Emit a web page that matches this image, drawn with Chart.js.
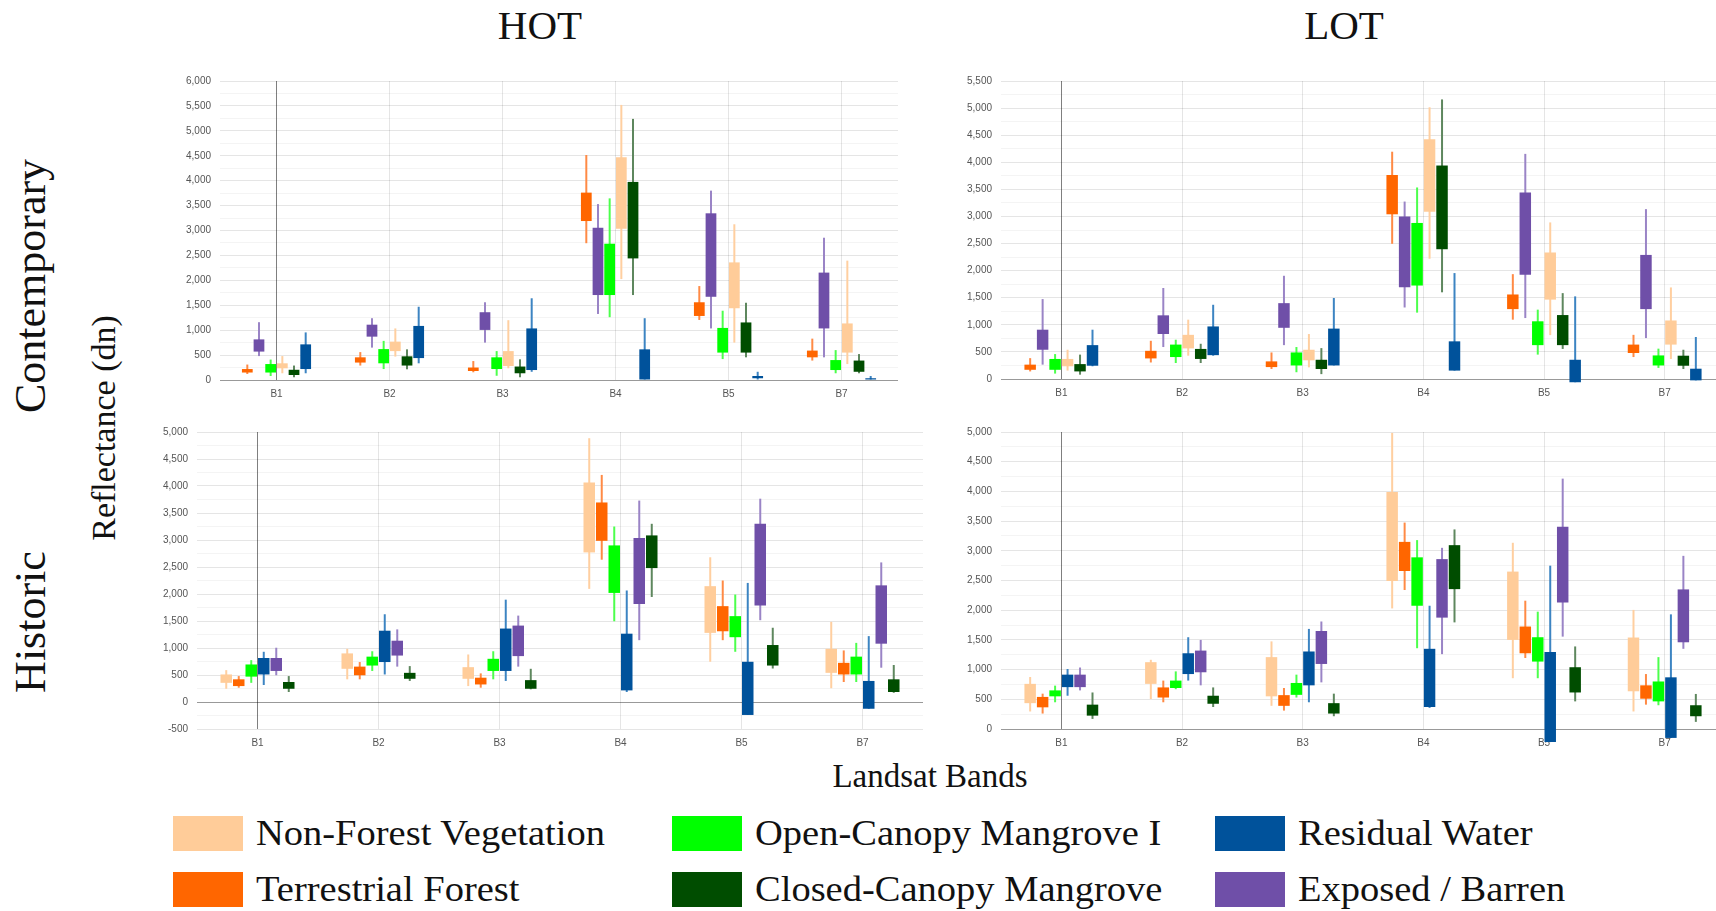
<!DOCTYPE html>
<html>
<head>
<meta charset="utf-8">
<script src="https://cdn.jsdelivr.net/npm/chart.js@4.4.1/dist/chart.umd.min.js"></script>
<style>
  html, body { margin: 0; padding: 0; background: #fff; }
  body { width: 1716px; height: 911px; overflow: hidden; position: relative; font-family: "Liberation Serif", serif; color: #111; }
  .panel { position: absolute; }
  .txt { position: absolute; white-space: nowrap; line-height: 1; }
  .rot { transform: translate(-50%, -50%) rotate(-90deg); }
  .sw { position: absolute; width: 70px; height: 35px; }
  .lg { position: absolute; font-size: 35px; line-height: 1; white-space: nowrap; transform: scaleX(1.1); transform-origin: left center; }
</style>
</head>
<body>

<div class="txt" style="left:540px;top:5px;font-size:41px;transform:translateX(-50%)">HOT</div>
<div class="txt" style="left:1344px;top:5px;font-size:41px;transform:translateX(-50%)">LOT</div>
<div class="txt rot" style="left:31px;top:286px;font-size:44px">Contemporary</div>
<div class="txt rot" style="left:31px;top:622px;font-size:44px">Historic</div>
<div class="txt rot" style="left:104px;top:428px;font-size:34px">Reflectance (dn)</div>
<div class="txt" style="left:930px;top:760px;font-size:33px;transform:translateX(-50%)">Landsat Bands</div>

<div class="panel" id="pTL"><canvas id="cTL"></canvas></div>
<div class="panel" id="pTR"><canvas id="cTR"></canvas></div>
<div class="panel" id="pBL"><canvas id="cBL"></canvas></div>
<div class="panel" id="pBR"><canvas id="cBR"></canvas></div>

<div id="legend"></div>

<script>
// Landsat bands on the x axis
const bands = ['B1', 'B2', 'B3', 'B4', 'B5', 'B7'];

// land cover classes
const classNames = ['Non-Forest Vegetation', 'Terrestrial Forest', 'Open-Canopy Mangrove I',
                    'Closed-Canopy Mangrove', 'Residual Water', 'Exposed / Barren'];
const classColors = ['#FFCC99', '#FF6600', '#00FF00', '#004D00', '#00529B', '#6F4FA8'];
const whiskerColors = ['#FFCFA0', '#FF8A45', '#4CFF4C', '#5E875E', '#3C84C2', '#9A84C6'];

// draw order of the classes inside each band group
const contempOrder = [1, 5, 2, 0, 3, 4];
const historicOrder = [0, 1, 2, 4, 5, 3];

// ---- HOT, contemporary: boxes [low, high], whiskers [min, max] ----
const hotC_nfv_box = [[235,335],[580,770],[280,580],[3035,4470],[1440,2360],[550,1135]];
const hotC_nfv_wsk = [[135,480],[470,1035],[235,1200],[2025,5520],[750,3125],[320,2395]];
const hotC_tf_box  = [[150,220],[350,455],[180,250],[3190,3760],[1285,1560],[455,590]];
const hotC_tf_wsk  = [[120,310],[290,560],[155,380],[2745,4515],[1205,1885],[390,830]];
const hotC_ocm_box = [[150,320],[335,620],[220,455],[1705,2735],[550,1045],[200,400]];
const hotC_ocm_wsk = [[80,410],[220,785],[85,580],[1260,3645],[420,1390],[135,600]];
const hotC_ccm_box = [[100,205],[290,475],[135,270],[2440,3975],[550,1155],[165,390]];
const hotC_ccm_wsk = [[55,290],[215,615],[55,415],[1705,5240],[455,1550],[135,520]];
const hotC_rw_box  = [[220,715],[440,1085],[200,1035],[0,615],[35,80],[0,35]];
const hotC_rw_wsk  = [[135,955],[335,1470],[165,1640],[0,1240],[0,165],[0,80]];
const hotC_eb_box  = [[570,815],[870,1110],[1005,1360],[1705,3055],[1670,3345],[1035,2155]];
const hotC_eb_wsk  = [[480,1160],[650,1240],[750,1560],[1325,3530],[1035,3800],[455,2855]];

// ---- LOT, contemporary ----
const lotC_nfv_box = [[235,370],[565,815],[345,540],[3085,4425],[1465,2335],[635,1080]];
const lotC_nfv_wsk = [[155,540],[430,1095],[215,830],[2220,5015],[810,2890],[370,1690]];
const lotC_tf_box  = [[170,265],[380,520],[220,325],[3040,3765],[1290,1560],[480,635]];
const lotC_tf_wsk  = [[140,385],[305,705],[185,490],[2495,4195],[1095,1935],[405,815]];
const lotC_ocm_box = [[170,370],[405,635],[250,490],[1725,2880],[625,1065],[250,435]];
const lotC_ocm_wsk = [[100,460],[295,725],[125,590],[1225,3535],[450,1280],[205,560]];
const lotC_ccm_box = [[140,275],[370,555],[185,355],[2395,3940],[625,1180],[245,430]];
const lotC_ccm_wsk = [[80,450],[295,650],[90,570],[1600,5160],[555,1585],[185,540]];
const lotC_rw_box  = [[245,625],[440,970],[250,930],[155,695],[-60,355],[-25,190]];
const lotC_rw_wsk  = [[235,910],[430,1370],[250,1495],[155,1955],[-60,1525],[-25,775]];
const lotC_eb_box  = [[540,910],[830,1175],[945,1400],[1695,3000],[1925,3440],[1290,2290]];
const lotC_eb_wsk  = [[265,1475],[590,1680],[625,1905],[1320,3275],[1125,4155],[755,3135]];

// ---- HOT, historic ----
const hotH_nfv_box = [[355,510],[615,900],[430,645],[2770,4065],[1280,2145],[540,985]];
const hotH_nfv_wsk = [[245,590],[420,985],[295,880],[2095,4885],[745,2680],[255,1485]];
const hotH_tf_box  = [[295,420],[495,655],[325,450],[2985,3695],[1310,1775],[510,725]];
const hotH_tf_wsk  = [[265,480],[420,740],[265,530],[2635,4205],[1145,2250],[370,955]];
const hotH_ocm_box = [[470,695],[675,840],[575,800],[2020,2900],[1200,1590],[510,840]];
const hotH_ocm_wsk = [[355,775],[575,940],[420,940],[1495,3250],[930,1990],[370,1095]];
const hotH_ccm_box = [[245,370],[430,540],[245,405],[2480,3085],[675,1055],[185,420]];
const hotH_ccm_wsk = [[185,480],[390,665],[235,615],[1945,3300],[620,1375],[170,685]];
const hotH_rw_box  = [[510,815],[740,1320],[575,1360],[215,1265],[-240,745],[-125,390]];
const hotH_rw_wsk  = [[315,930],[510,1625],[390,1895],[185,2065],[-240,2205],[-125,1220]];
const hotH_eb_box  = [[575,815],[860,1135],[850,1415],[1815,3035],[1785,3300],[1080,2160]];
const hotH_eb_wsk  = [[495,1005],[655,1345],[655,1600],[1145,3730],[1515,3765],[635,2585]];

// ---- LOT, historic ----
const lotH_nfv_box = [[435,760],[760,1125],[550,1210],[2490,3990],[1500,2650],[635,1540]];
const lotH_nfv_wsk = [[295,875],[505,1165],[390,1475],[2030,4985],[855,3135],[295,2005]];
const lotH_tf_box  = [[365,540],[530,700],[390,570],[2660,3150],[1275,1725],[510,735]];
const lotH_tf_wsk  = [[260,595],[450,815],[310,690],[2340,3475],[1195,2160],[410,925]];
const lotH_ocm_box = [[550,650],[690,815],[575,775],[2075,2890],[1135,1545],[465,800]];
const lotH_ocm_wsk = [[450,730],[670,970],[530,915],[1360,3180],[855,1975],[400,1210]];
const lotH_ccm_box = [[225,410],[425,560],[260,435],[2355,3095],[615,1040],[215,400]];
const lotH_ccm_wsk = [[170,615],[370,700],[215,595],[1795,3360],[465,1390],[120,590]];
const lotH_rw_box  = [[705,915],[925,1275],[735,1305],[370,1350],[-220,1295],[-150,870]];
const lotH_rw_wsk  = [[560,1010],[815,1545],[450,1685],[355,2075],[-220,2750],[-150,1930]];
const lotH_eb_box  = [[705,915],[955,1320],[1095,1650],[1875,2860],[2130,3405],[1460,2350]];
const lotH_eb_wsk  = [[650,1035],[735,1500],[785,1810],[1260,3050],[1555,4215],[1350,2915]];

// boxes and whiskers per panel, indexed like classNames
const hotC_boxes = [hotC_nfv_box, hotC_tf_box, hotC_ocm_box, hotC_ccm_box, hotC_rw_box, hotC_eb_box];
const hotC_whisk = [hotC_nfv_wsk, hotC_tf_wsk, hotC_ocm_wsk, hotC_ccm_wsk, hotC_rw_wsk, hotC_eb_wsk];
const lotC_boxes = [lotC_nfv_box, lotC_tf_box, lotC_ocm_box, lotC_ccm_box, lotC_rw_box, lotC_eb_box];
const lotC_whisk = [lotC_nfv_wsk, lotC_tf_wsk, lotC_ocm_wsk, lotC_ccm_wsk, lotC_rw_wsk, lotC_eb_wsk];
const hotH_boxes = [hotH_nfv_box, hotH_tf_box, hotH_ocm_box, hotH_ccm_box, hotH_rw_box, hotH_eb_box];
const hotH_whisk = [hotH_nfv_wsk, hotH_tf_wsk, hotH_ocm_wsk, hotH_ccm_wsk, hotH_rw_wsk, hotH_eb_wsk];
const lotH_boxes = [lotH_nfv_box, lotH_tf_box, lotH_ocm_box, lotH_ccm_box, lotH_rw_box, lotH_eb_box];
const lotH_whisk = [lotH_nfv_wsk, lotH_tf_wsk, lotH_ocm_wsk, lotH_ccm_wsk, lotH_rw_wsk, lotH_eb_wsk];

const CAT_PCT = 0.62;
const Y_AXIS_W = 60, X_AXIS_H = 30, PAD_TOP = 10, PAD_RIGHT = 2;

function buildDatasets(order, boxes, whisk) {
    let sets = [];
    order.forEach((c) => {
        sets.push({
            label: classNames[c],
            data: boxes[c],
            stack: 'c' + c,
            order: 0,
            backgroundColor: classColors[c],
            borderWidth: 0,
            borderSkipped: false,
            categoryPercentage: CAT_PCT,
            barPercentage: 0.92,
            clip: false,
        });
    });
    // thin bars behind the boxes = whiskers
    order.forEach((c) => {
        sets.push({
            label: classNames[c] + ' range',
            data: whisk[c],
            stack: 'c' + c,
            order: 1,
            backgroundColor: whiskerColors[c],
            borderWidth: 0,
            borderSkipped: false,
            categoryPercentage: CAT_PCT,
            barPercentage: 0.92,
            maxBarThickness: 2,
            clip: false,
        });
    });
    return sets;
}

// area = the plot area in page pixels
function makePanel(id, area, yMin, yMax, order, boxes, whisk) {
    const wrap = document.getElementById('p' + id);
    let w = area.right - area.left + Y_AXIS_W + PAD_RIGHT;
    let h = area.bottom - area.top + PAD_TOP + X_AXIS_H;
    wrap.style.left = (area.left - Y_AXIS_W) + 'px';
    wrap.style.top = (area.top - PAD_TOP) + 'px';
    wrap.style.width = w + 'px';
    wrap.style.height = h + 'px';

    const tickFont = { family: '"Liberation Sans", Arial, sans-serif', size: 10 };

    const chart = new Chart(document.getElementById('c' + id), {
        type: 'bar',
        data: { labels: bands, datasets: buildDatasets(order, boxes, whisk) },
        options: {
            responsive: true,
            maintainAspectRatio: false,
            animation: false,
            layout: { padding: { top: PAD_TOP, right: PAD_RIGHT, left: 0, bottom: 0 } },
            plugins: { legend: { display: false }, tooltip: { enabled: false } },
            scales: {
                x: {
                    offset: true,
                    border: { display: false },
                    grid: {
                        offset: false,
                        drawTicks: false,
                        color: (ctx) => ctx.index === 0 ? 'rgba(0,0,0,0.5)' : 'rgba(0,0,0,0.1)',
                    },
                    ticks: { color: '#555', font: tickFont, padding: 8 },
                    afterFit: (s) => { s.height = X_AXIS_H; },
                },
                y: {
                    stacked: false,
                    min: yMin,
                    max: yMax,
                    border: { display: false },
                    grid: {
                        drawTicks: false,
                        color: (ctx) => {
                            const v = ctx.tick.value;
                            if (v === 0) return 'rgba(0,0,0,0.4)';
                            return v % 500 === 0 ? 'rgba(0,0,0,0.1)' : 'rgba(0,0,0,0.045)';
                        },
                    },
                    ticks: {
                        stepSize: 250,
                        autoSkip: false,
                        color: '#555',
                        font: tickFont,
                        padding: 9,
                        callback: (v) => v % 500 === 0 ? v.toLocaleString('en-US') : '',
                    },
                    afterFit: (s) => { s.width = Y_AXIS_W; },
                },
            },
        },
    });

    // the layout may push the plot area down a little; move the box so the plot area lands where wanted
    const dTop = chart.chartArea.top - PAD_TOP;
    const dLeft = chart.chartArea.left - Y_AXIS_W;
    if (dTop !== 0 || dLeft !== 0) {
        h += dTop;
        w += dLeft;
        wrap.style.top = (area.top - PAD_TOP - dTop) + 'px';
        wrap.style.left = (area.left - Y_AXIS_W - dLeft) + 'px';
        wrap.style.width = w + 'px';
        wrap.style.height = h + 'px';
        chart.resize();
    }
    return chart;
}

makePanel('TL', { left: 220, top: 81, right: 898, bottom: 380 }, 0, 6000, contempOrder, hotC_boxes, hotC_whisk);
makePanel('TR', { left: 1001, top: 81, right: 1725, bottom: 379 }, 0, 5500, contempOrder, lotC_boxes, lotC_whisk);
makePanel('BL', { left: 197, top: 432, right: 923, bottom: 729 }, -500, 5000, historicOrder, hotH_boxes, hotH_whisk);
makePanel('BR', { left: 1001, top: 432, right: 1725, bottom: 729 }, 0, 5000, historicOrder, lotH_boxes, lotH_whisk);

// legend: three columns, two rows
const legendCols = [173, 672, 1215];
const legendRows = [816, 872];
const legendLayout = [0, 1, 2, 3, 4, 5]; // col0 = NFV, TF; col1 = OCM, CCM; col2 = RW, EB
const legend = document.getElementById('legend');
legendLayout.forEach((c, i) => {
    const col = Math.floor(i / 2), row = i % 2;
    const sw = document.createElement('div');
    sw.className = 'sw';
    sw.style.left = legendCols[col] + 'px';
    sw.style.top = legendRows[row] + 'px';
    sw.style.background = classColors[c];
    legend.appendChild(sw);
    const tx = document.createElement('div');
    tx.className = 'lg';
    tx.style.left = (legendCols[col] + 83) + 'px';
    tx.style.top = legendRows[row] + 'px';
    tx.textContent = classNames[c];
    legend.appendChild(tx);
});
</script>
</body>
</html>
